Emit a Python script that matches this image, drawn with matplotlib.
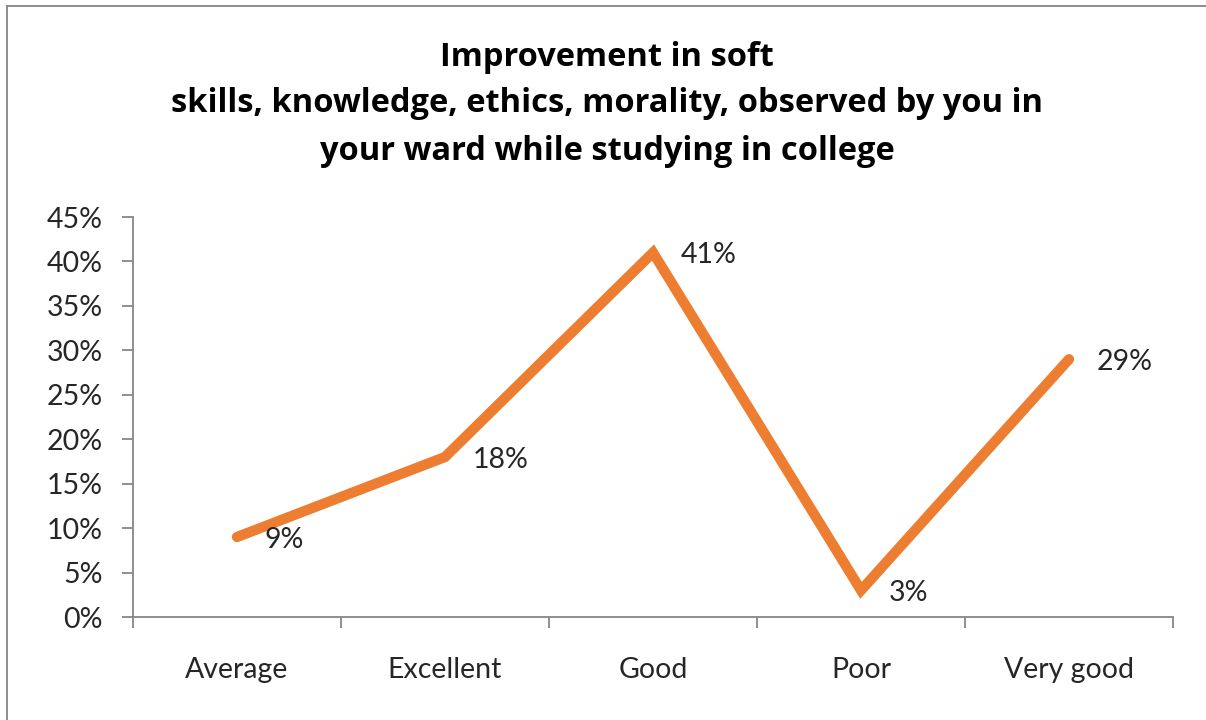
import matplotlib
matplotlib.use("Agg")
import matplotlib.pyplot as plt
from matplotlib.patches import Rectangle
from matplotlib.ticker import PercentFormatter, FixedLocator

plt.rcParams['font.family'] = ['Lato', 'DejaVu Sans']

categories = ["Average", "Excellent", "Good", "Poor", "Very good"]
values = [9, 18, 41, 3, 29]
y_ticks = [0, 5, 10, 15, 20, 25, 30, 35, 40, 45]
title_lines = [
    "Improvement in soft",
    "skills, knowledge, ethics, morality, observed by you in",
    "your ward while studying in college",
]

W, H = 1206, 720
fig = plt.figure(figsize=(W / 100, H / 100), dpi=100)
fig.patch.set_facecolor("white")

# outer chart frame
fig.add_artist(Rectangle((7 / W, -0.01), 1.2, (H - 6) / H + 0.01,
                         transform=fig.transFigure, fill=False,
                         edgecolor="#8c8c8c", linewidth=1.4))

ax = fig.add_axes([133 / W, 1 - 617 / H, (1173 - 133) / W, (617 - 217) / H])
x = list(range(len(categories)))
ax.plot(x, values, color="#ED7D31", linewidth=7.4, solid_capstyle="round",
        solid_joinstyle="miter", zorder=3)

for xi, v in zip(x, values):
    ax.annotate(f"{v}%", (xi, v), xytext=(20, -2), textcoords="offset points",
                ha="left", va="center", fontsize=20.5, color="#262626")

ax.set_xlim(-0.5, len(categories) - 0.5)
ax.set_ylim(0, 45)
ax.set_yticks(y_ticks)
ax.yaxis.set_major_formatter(PercentFormatter(decimals=0))
ax.set_xticks(x)
ax.set_xticklabels(categories)
ax.xaxis.set_minor_locator(FixedLocator([i - 0.5 for i in range(len(categories) + 1)]))

for side in ("top", "right"):
    ax.spines[side].set_visible(False)
for side in ("left", "bottom"):
    ax.spines[side].set_color("#868686")
    ax.spines[side].set_linewidth(1.3)

ax.tick_params(axis="y", length=8, width=1.3, color="#868686", pad=14,
               labelsize=20.5, labelcolor="#262626")
ax.tick_params(axis="x", which="major", length=0, pad=29,
               labelsize=20.5, labelcolor="#262626")
ax.tick_params(axis="x", which="minor", length=8, width=1.3, color="#868686")

for i, line in enumerate(title_lines):
    fig.text(607 / W, 1 - (57 + 47 * i) / H, line, ha="center", va="center",
             fontsize=23.5, fontweight="bold", color="#000000",
             family=["Open Sans", "DejaVu Sans"])

fig.savefig("out.png", dpi=100)
